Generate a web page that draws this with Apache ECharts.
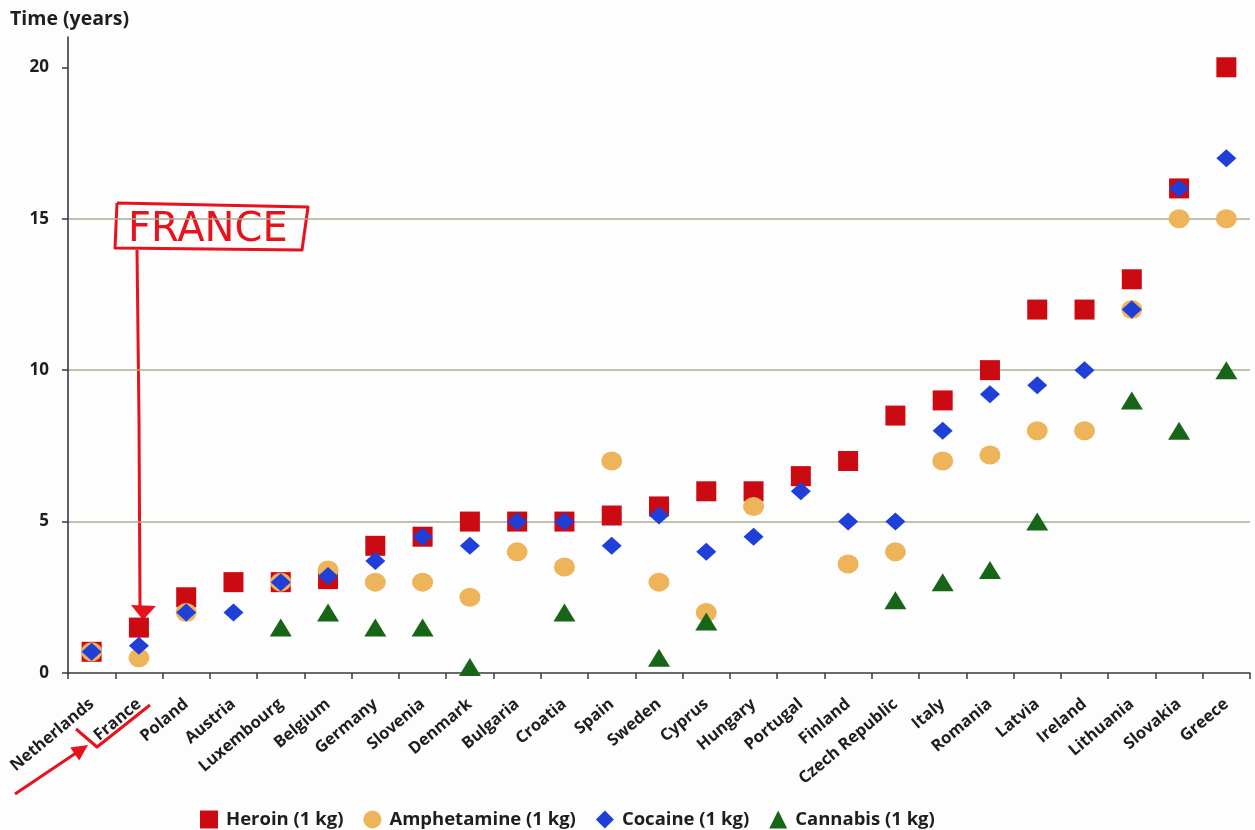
<!DOCTYPE html>
<html>
<head>
<meta charset="utf-8">
<title>Time to serve for 1 kg of drugs</title>
<script src="https://cdn.jsdelivr.net/npm/echarts@6/dist/echarts.min.js"></script>
<style>
  html, body { margin: 0; padding: 0; background: #fdfdfd; }
  #chart { width: 1255px; height: 830px; }
</style>
</head>
<body>
<div id="chart"></div>
<script>
// Countries, ordered by heroin sentence length
const countries = ['Netherlands', 'France', 'Poland', 'Austria', 'Luxembourg', 'Belgium', 'Germany',
  'Slovenia', 'Denmark', 'Bulgaria', 'Croatia', 'Spain', 'Sweden', 'Cyprus', 'Hungary', 'Portugal',
  'Finland', 'Czech Republic', 'Italy', 'Romania', 'Latvia', 'Ireland', 'Lithuania', 'Slovakia', 'Greece'];

// Time in years for 1 kg of each drug (null = no value)
const heroin = [0.7, 1.5, 2.5, 3, 3, 3.1, 4.2, 4.5, 5, 5, 5, 5.2, 5.5, 6, 6, 6.5, 7, 8.5, 9, 10, 12, 12, 13, 16, 20];
const amphetamine = [0.7, 0.5, 2, null, 3, 3.4, 3, 3, 2.5, 4, 3.5, 7, 3, 2, 5.5, null, 3.6, 4, 7, 7.2, 8, 8, 12, 15, 15];
const cocaine = [0.7, 0.9, 2, 2, 3, 3.2, 3.7, 4.5, 4.2, 5, 5, 4.2, 5.2, 4, 4.5, 6, 5, 5, 8, 9.2, 9.5, 10, 12, 16, 17];
const cannabis = [null, null, null, null, 1.5, 2, 1.5, 1.5, 0.2, null, 2, null, 0.5, 1.7, null, null, null, 2.4, 3, 3.4, 5, null, 9, 8, 10];

const yTicks = [0, 5, 10, 15, 20];

const FONT = '"Open Sans", Lato, sans-serif';
const INK = '#e8121c';

const chart = echarts.init(document.getElementById('chart'), null, { renderer: 'canvas' });

function scatter(name, data, symbol, size, color) {
  return {
    name, type: 'scatter', data, symbol, symbolSize: size,
    itemStyle: { color, opacity: 1 },
    emphasis: { disabled: true }
  };
}

chart.setOption({
  backgroundColor: '#fdfdfd',
  animation: false,
  grid: { left: 68, right: 5, top: 37, bottom: 157, containLabel: false },
  xAxis: {
    type: 'category',
    data: countries,
    boundaryGap: true,
    axisLine: { lineStyle: { color: '#3a3a3a', width: 1.5 } },
    axisTick: { show: true, length: 6, lineStyle: { color: '#3a3a3a', width: 1.5 } },
    axisLabel: {
      interval: 0, rotate: 40, margin: 29,
      fontFamily: FONT, fontWeight: 'bold', fontSize: 16.5, color: '#1e1e1e'
    },
    splitLine: { show: false }
  },
  yAxis: {
    type: 'value',
    min: 0, max: 21, interval: 5,
    axisLine: { show: true, lineStyle: { color: '#2b2a3c', width: 1.5 } },
    axisTick: { show: true, length: 6, customValues: yTicks, lineStyle: { color: '#3a3a3a', width: 1.5 } },
    axisLabel: {
      customValues: yTicks, margin: 19,
      fontFamily: FONT, fontWeight: 'bold', fontSize: 17, color: '#1e1e1e'
    },
    splitLine: {
      show: true, showMinLine: false, showMaxLine: false,
      lineStyle: { color: '#a9ae8f', width: 1.5 }
    }
  },
  legend: {
    left: 195, top: 805,
    itemWidth: 18, itemHeight: 18, itemGap: 20,
    textStyle: { fontFamily: FONT, fontWeight: 'bold', fontSize: 18.5, color: '#1e1e1e', padding: [0, 0, 0, 3] },
    data: [
      { name: 'Heroin (1 kg)', icon: 'rect' },
      { name: 'Amphetamine (1 kg)', icon: 'circle' },
      { name: 'Cocaine (1 kg)', icon: 'diamond' },
      { name: 'Cannabis (1 kg)', icon: 'triangle' }
    ]
  },
  series: [
    scatter('Heroin (1 kg)', heroin, 'rect', 20, '#cc0a12'),
    scatter('Amphetamine (1 kg)', amphetamine, 'circle', [21, 19], '#eeb45a'),
    scatter('Cocaine (1 kg)', cocaine, 'diamond', [20, 18], '#1f3fd8'),
    scatter('Cannabis (1 kg)', cannabis, 'triangle', [22, 18], '#176617')
  ],
  graphic: [
    { type: 'text', left: 10, top: 9,
      style: { text: 'Time (years)', fontFamily: FONT, fontWeight: 'bold', fontSize: 19.5, fill: '#1e1e1e' } },
    // hand-drawn "FRANCE" note
    { type: 'polyline', shape: { points: [[117, 203], [308, 207], [302, 250], [115, 248], [117, 203]] },
      style: { stroke: INK, lineWidth: 3, fill: null, lineJoin: 'round' } },
    { type: 'text', x: 128, y: 211,
      style: { text: 'FRANCE', fontFamily: '"DejaVu Sans"', fontSize: 40, fill: INK } },
    { type: 'polyline', shape: { points: [[137, 250], [139, 420], [140, 608]] },
      style: { stroke: INK, lineWidth: 3, fill: null } },
    { type: 'polygon', shape: { points: [[131, 605], [156, 606], [143, 620]] },
      style: { fill: INK } },
    // arrow and underline by the France label
    { type: 'polyline', shape: { points: [[15, 794], [82, 749]] },
      style: { stroke: INK, lineWidth: 3, fill: null } },
    { type: 'polygon', shape: { points: [[88, 745], [79.2, 760.6], [70.2, 747.4]] },
      style: { fill: INK } },
    { type: 'polyline', shape: { points: [[76, 729], [97, 747], [150, 705]] },
      style: { stroke: INK, lineWidth: 3, fill: null, lineJoin: 'round' } }
  ]
});
</script>
</body>
</html>
